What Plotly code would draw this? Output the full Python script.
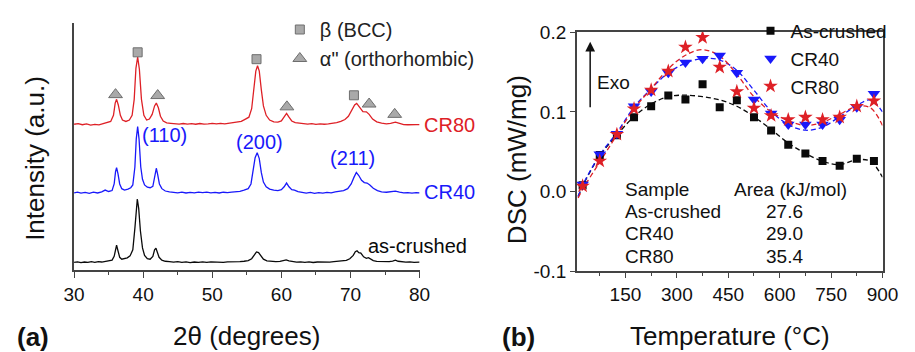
import plotly.graph_objects as go

W, H = 915, 352
FONT = "Liberation Sans, Arial, sans-serif"

# ---------------- (a) XRD data: (2theta, intensity a.u.) ----------------
cr80_xrd = [(30.0,155.5),(30.6,156.2),(31.2,155.0),(31.8,155.8),(32.4,154.6),(33.0,155.4),(33.6,154.8),(34.2,156.0),
            (34.8,156.8),(35.3,158.5),(35.7,165),(35.95,178),(36.15,182),(36.4,176),(36.7,165),(37.0,160),(37.5,158.5),
            (38.0,160),(38.4,165),(38.7,182),(38.95,215),(39.2,227),(39.45,214),(39.75,182),(40.1,165),(40.5,160),
            (40.9,161),(41.3,166),(41.65,175),(41.9,178),(42.2,173),(42.5,164),(42.9,159),(43.4,157),(44.0,156.5),
            (44.6,156.2),(45.2,155.6),(45.8,156.3),(46.4,155.7),(47.0,156.2),(47.6,155.5),(48.2,156.3),(48.8,155.6),
            (49.4,155.9),(50.0,156.4),(50.6,155.8),(51.2,156.5),(51.8,156.0),(52.4,156.8),(53.0,157.2),(53.6,157.8),
            (54.2,158.5),(54.8,161),(55.3,163),(55.7,172),(56.0,192),(56.3,212),(56.55,217.7),(56.8,212),(57.1,192),
            (57.4,175),(57.8,165),(58.3,160),(58.9,158),(59.5,157.8),(60.0,159),(60.4,163),(60.75,167),(61.1,163),
            (61.5,159),(62.0,157.2),(62.6,156.5),(63.2,156.0),(63.8,155.6),(64.4,156.2),(65.0,155.4),(65.6,155.8),
            (66.2,155.5),(66.8,156.0),(67.4,156.5),(68.0,157.3),(68.6,158.6),(69.2,160.5),(69.7,164),(70.2,170),
            (70.6,176),(70.9,177.7),(71.3,174),(71.8,169),(72.3,168.7),(72.7,166),(73.2,161),(73.8,158),(74.5,156.6),
            (75.2,156.0),(75.8,156.5),(76.5,157.7),(77.1,156.4),(77.7,155.2),(78.3,155.0),(78.9,155.3),(79.5,155.2),
            (80.0,155.0)]

cr40_xrd = [(30.0,82.5),(30.5,83.3),(31.0,82.2),(31.6,83.0),(32.2,82.0),(32.8,83.2),(33.4,82.4),(34.0,83.6),
            (34.5,85.5),(35.0,84.0),(35.5,85.0),(35.8,92),(36.0,105),(36.15,109.3),(36.35,103),(36.6,92),(36.9,87),
            (37.3,85.5),(37.8,86.5),(38.2,88),(38.5,91),(38.8,110),(39.0,140),(39.2,153),(39.4,140),(39.65,110),
            (39.9,97),(40.2,91),(40.6,88.5),(41.0,88),(41.4,89.5),(41.7,100),(41.9,108.7),(42.1,102),(42.35,92),
            (42.7,87),(43.2,84.5),(43.8,83.5),(44.4,83.0),(45.0,82.6),(45.6,83.3),(46.2,82.4),(46.8,83.1),(47.4,82.5),
            (48.0,83.4),(48.6,82.8),(49.2,83.3),(49.8,82.6),(50.4,83.0),(51.0,82.4),(51.6,83.2),(52.2,82.7),(52.8,83.4),
            (53.4,83.8),(54.0,84.2),(54.6,85.5),(55.2,87),(55.6,92),(55.9,105),(56.2,120),(56.5,125.3),(56.8,119),
            (57.1,104),(57.4,94),(57.8,89),(58.3,86.5),(58.9,85.5),(59.5,85),(60.0,86),(60.4,89),(60.75,93),(61.1,89),
            (61.5,86),(61.9,85.5),(62.4,83.8),(63.0,83.0),(63.6,82.3),(64.2,83.0),(64.8,82.0),(65.4,82.8),(66.0,82.2),
            (66.6,83.0),(67.2,82.6),(67.8,83.6),(68.4,84.0),(69.0,85.0),(69.6,87),(70.1,92),(70.5,99),(70.85,104.3),
            (71.2,101),(71.6,96),(72.0,93.5),(72.4,93),(72.8,91),(73.3,87.5),(73.9,85),(74.5,83.5),(75.2,83.2),
            (75.8,83.6),(76.5,84.3),(77.1,83.4),(77.7,82.6),(78.3,82.8),(78.9,82.3),(79.5,82.7),(80.0,82.5)]

asc_xrd = [(30.0,8.5),(30.5,9.2),(31.0,8.3),(31.5,9.0),(32.0,8.6),(32.5,9.3),(33.0,8.7),(33.5,9.5),(34.0,9.0),
           (34.5,9.8),(35.0,10.0),(35.5,11.0),(35.8,15),(36.0,24),(36.15,27),(36.35,21),(36.6,14),(36.9,12),
           (37.3,12.5),(37.7,13.5),(38.1,15.5),(38.5,22),(38.8,45),(39.0,68),(39.15,76),(39.35,66),(39.6,42),
           (39.9,24),(40.2,16),(40.6,12.5),(41.0,12),(41.4,15),(41.65,22),(41.85,23.7),(42.05,20),(42.3,14),(42.7,11),
           (43.2,9.8),(43.8,9.3),(44.4,8.8),(45.0,9.4),(45.6,8.6),(46.2,9.1),(46.8,8.4),(47.4,9.0),(48.0,8.6),
           (48.6,9.2),(49.2,8.7),(49.8,9.1),(50.4,8.9),(51.0,9.3),(51.6,8.7),(52.2,9.2),(52.8,9.0),(53.4,9.5),
           (54.0,9.3),(54.6,9.8),(55.2,10.5),(55.7,12.5),(56.1,17),(56.4,19.7),(56.7,19),(57.0,15.5),(57.4,12),
           (57.9,10.3),(58.5,9.6),(59.2,9.4),(59.8,9.6),(60.3,10.4),(60.7,11.2),(61.1,10.2),(61.6,9.3),(62.2,8.9),
           (62.8,9.2),(63.4,8.6),(64.0,9.1),(64.6,8.5),(65.2,9.0),(65.8,8.7),(66.4,9.2),(67.0,8.9),(67.6,9.4),
           (68.2,9.6),(68.8,10.2),(69.4,10.8),(69.9,12.5),(70.4,16),(70.7,20),(70.95,21),(71.2,19),(71.5,18.5),
           (71.9,14.5),(72.3,13),(72.6,13.7),(72.9,12.5),(73.3,10.5),(73.8,9.6),(74.4,9.3),(75.0,9.0),(75.6,9.4),
           (76.1,10.0),(76.5,11.0),(76.9,9.8),(77.4,9.0),(78.0,8.8),(78.6,9.1),(79.2,8.6),(80.0,8.8)]

# phase markers (2theta, marker height)
beta_peaks = [(39.2, 232), (56.4, 224.7), (70.5, 186.3)]
alpha_peaks = [(36.0, 187), (42.1, 186), (60.8, 174), (72.7, 177), (76.4, 166)]

# ---------------- (b) DSC data ----------------
temp = [25, 75, 125, 175, 225, 275, 325, 375, 425, 475, 525, 575, 625, 675, 725, 775, 825, 875]
dsc_as = [0.008, 0.046, 0.0706, 0.0933, 0.107, 0.1204, 0.1156, 0.1345, 0.1059, 0.1145, 0.0933, 0.0765,
          0.0588, 0.0478, 0.0384, 0.0325, 0.0412, 0.0384]
dsc_cr40 = [0.009, 0.047, 0.0725, 0.107, 0.1255, 0.149, 0.162, 0.1666, 0.1706, 0.149, 0.1156, 0.098,
            0.0843, 0.0843, 0.0843, 0.0902, 0.1059, 0.1227]
dsc_cr80 = [0.007, 0.0384, 0.0718, 0.1039, 0.1274, 0.151, 0.1812, 0.1933, 0.156, 0.1255, 0.1047, 0.0953,
            0.0902, 0.0933, 0.0902, 0.0933, 0.107, 0.1137]

fit_temp = [12, 25, 75, 125, 175, 225, 275, 325, 375, 425, 475, 525, 575, 625, 675, 725, 775, 825, 865, 900]
fit_as = [-0.006, 0.007, 0.045, 0.071, 0.094, 0.110, 0.119, 0.121, 0.119, 0.115, 0.107, 0.094, 0.078,
          0.061, 0.048, 0.038, 0.034, 0.040, 0.038, 0.018]
fit_cr40 = [-0.006, 0.008, 0.046, 0.074, 0.106, 0.129, 0.149, 0.161, 0.167, 0.165, 0.152, 0.127, 0.101,
            0.084, 0.077, 0.081, 0.094, 0.108, 0.115, 0.100]
fit_cr80 = [-0.008, 0.003, 0.037, 0.071, 0.104, 0.129, 0.154, 0.171, 0.178, 0.170, 0.147, 0.119, 0.100,
            0.089, 0.083, 0.087, 0.097, 0.107, 0.105, 0.083]

area_samples = ["As-crushed", "CR40", "CR80"]
area_values = ["27.6", "29.0", "35.4"]

RED = "rgb(222,32,38)"
BLUE = "rgb(25,25,250)"
BLACK = "rgb(10,10,10)"
AXC = "#444444"


def px(x):
    return x / W


def py(y):
    return 1 - y / H


fig = go.Figure()

for data, col in [(asc_xrd, BLACK), (cr40_xrd, BLUE), (cr80_xrd, RED)]:
    fig.add_trace(go.Scatter(x=[p[0] for p in data], y=[p[1] for p in data], mode="lines",
                             line=dict(color=col, width=1.3), showlegend=False, xaxis="x", yaxis="y"))

fig.add_trace(go.Scatter(x=[p[0] for p in beta_peaks], y=[p[1] for p in beta_peaks], mode="markers",
                         name="β (BCC)", legend="legend2",
                         marker=dict(symbol="square", size=9, color="#a9a9a9", line=dict(color="#6e6e6e", width=1)),
                         xaxis="x", yaxis="y"))
fig.add_trace(go.Scatter(x=[p[0] for p in alpha_peaks], y=[p[1] for p in alpha_peaks], mode="markers",
                         name="α\" (orthorhombic)", legend="legend2",
                         marker=dict(symbol="triangle-up", size=12, color="#a9a9a9", line=dict(color="#6e6e6e", width=1)),
                         xaxis="x", yaxis="y"))

# DSC fits
for fx, col in [(fit_as, BLACK), (fit_cr40, BLUE), (fit_cr80, RED)]:
    fig.add_trace(go.Scatter(x=fit_temp, y=fx, mode="lines", line=dict(color=col, width=1.3, dash="5px,3px", shape="spline"),
                             showlegend=False, xaxis="x2", yaxis="y2"))

fig.add_trace(go.Scatter(x=temp, y=dsc_as, mode="markers", name="As-crushed",
                         marker=dict(symbol="square", size=8, color=BLACK), xaxis="x2", yaxis="y2"))
fig.add_trace(go.Scatter(x=temp, y=dsc_cr40, mode="markers", name="CR40",
                         marker=dict(symbol="triangle-down", size=11, color=BLUE), xaxis="x2", yaxis="y2"))
fig.add_trace(go.Scatter(x=temp, y=dsc_cr80, mode="markers", name="CR80",
                         marker=dict(symbol="star", size=11, color=RED), xaxis="x2", yaxis="y2"))

tickfont = dict(family=FONT, size=19, color="#111111")

fig.update_layout(
    width=W, height=H, margin=dict(l=0, r=0, t=0, b=0),
    paper_bgcolor="white", plot_bgcolor="white",
    font=dict(family=FONT, color="#111111"),
    xaxis=dict(domain=[px(65), px(421)], range=[30, 80], tickvals=[30, 40, 50, 60, 70, 80],
               ticks="outside", ticklen=6, tickwidth=1.3, tickcolor=AXC,
               minor=dict(tickvals=[35, 45, 55, 65, 75], ticks="outside", ticklen=3, tickwidth=1.2, tickcolor=AXC),
               showline=True, linecolor=AXC, linewidth=1.5, showgrid=False, zeroline=False,
               tickfont=tickfont, anchor="y"),
    yaxis=dict(domain=[py(277), py(14)], range=[0, 263], showticklabels=False, ticks="",
               showline=True, linecolor=AXC, linewidth=1.5, showgrid=False, zeroline=False, anchor="x"),
    xaxis2=dict(domain=[px(583), px(898)], range=[8, 900], tickvals=[150, 300, 450, 600, 750, 900],
                ticks="outside", ticklen=5, tickwidth=1.3, tickcolor=AXC,
                minor=dict(tickvals=[75, 225, 375, 525, 675, 825], ticks="outside", ticklen=3, tickwidth=1.2, tickcolor=AXC),
                showline=True, mirror=True, linecolor=AXC, linewidth=1.5, showgrid=False, zeroline=False,
                tickfont=tickfont, anchor="y2"),
    yaxis2=dict(domain=[py(278), py(23.5)], range=[-0.1, 0.2], tickvals=[-0.1, 0.0, 0.1, 0.2],
                ticktext=["-0.1", "0.0", "0.1", "0.2"], ticks="outside", ticklen=5, tickwidth=1.3, tickcolor=AXC,
                showline=True, mirror=True, linecolor=AXC, linewidth=1.5, showgrid=False, zeroline=False,
                tickfont=tickfont, anchor="x2"),
    legend=dict(x=px(762), y=py(2), xanchor="left", yanchor="top", bgcolor="rgba(0,0,0,0)",
                font=dict(family=FONT, size=19, color="#111111"), tracegroupgap=0, itemwidth=30),
    legend2=dict(x=px(277), y=py(0), xanchor="left", yanchor="top", bgcolor="rgba(0,0,0,0)",
                 font=dict(family=FONT, size=20, color="#222222"), tracegroupgap=0, itemwidth=30),
)

ann = []


def text(x, y, s, size=19, color="#111111", xa="center", ya="middle", bold=False, angle=0):
    ann.append(dict(x=px(x), y=py(y), xref="paper", yref="paper", text=("<b>%s</b>" % s) if bold else s,
                    showarrow=False, xanchor=xa, yanchor=ya, textangle=angle,
                    font=dict(family=FONT, size=size, color=color)))


# axis titles
text(24, 158, "Intensity (a.u.)", size=26, angle=-90)
text(243, 347, "2θ (degrees)", size=26)
text(521, 159, "DSC (mW/mg)", size=26, angle=-90)
text(741, 347, "Temperature (°C)", size=26)
text(23, 348, "(a)", size=26, bold=True)
text(523, 348, "(b)", size=26, bold=True)

# curve labels in (a)
text(424, 122, "CR80", size=20, color=RED, xa="left")
text(424, 194, "CR40", size=20, color=BLUE, xa="left")
text(472, 251, "as-crushed", size=20, color=BLACK, xa="right")
text(133, 133, "(110)", size=20, color=BLUE, xa="left")
text(256, 140, "(200)", size=20, color=BLUE)
text(352, 157, "(211)", size=20, color=BLUE)

# table in (b)
text(631, 190.5, "Sample", xa="left")
text(743, 190.5, "Area (kJ/mol)", xa="left")
for i, (s, v) in enumerate(zip(area_samples, area_values)):
    yy = 214.3 + i * 23.7
    text(631, yy, s, xa="left")
    text(776, yy, v, xa="left")

# Exo arrow
text(602, 77, "Exo", xa="left")
ann.append(dict(x=47, y=0.188, ax=47, ay=0.104, xref="x2", yref="y2", axref="x2", ayref="y2",
                showarrow=True, arrowhead=2, arrowsize=1.3, arrowwidth=1.5, arrowcolor="#111111", text=""))

fig.update_layout(annotations=ann)
fig.write_html("out.html")
